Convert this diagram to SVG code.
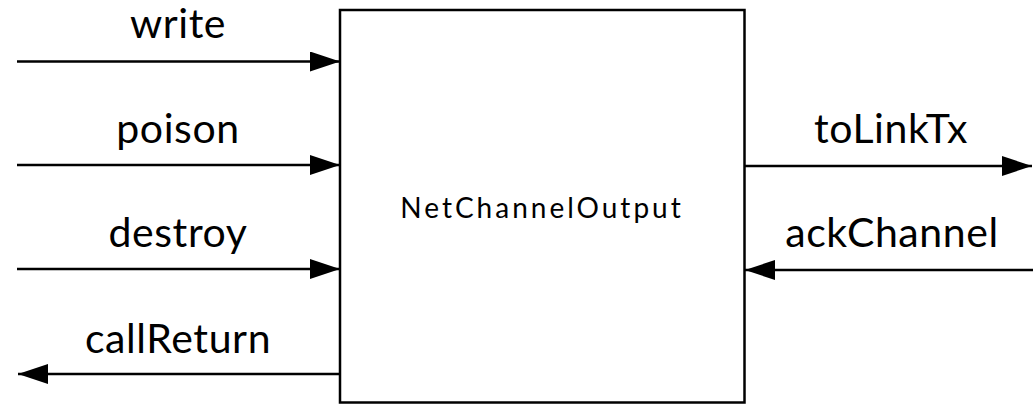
<svg xmlns="http://www.w3.org/2000/svg" width="1033" height="404" viewBox="0 0 1033 404">
<style>
.lbl{font-family:Lato,"Open Sans","Liberation Sans",sans-serif;font-size:41px;letter-spacing:0.6px;fill:#000;text-anchor:middle}
.ln{stroke:#000;stroke-width:2.5;fill:none}
</style>
<defs>
<marker id="ahb" viewBox="0 0 30 20" refX="30" refY="10" markerWidth="30" markerHeight="20" markerUnits="userSpaceOnUse" orient="auto">
<path d="M0,0 L30,10 L0,20 z" fill="#000"/>
</marker>
</defs>
<rect width="1033" height="404" fill="#fff"/>
<g id="NetChannelOutput">
<rect x="340" y="10" width="404.5" height="392.5" fill="#fff" stroke="#000" stroke-width="2.5"/>
<text x="542" y="218" style="font-family:Lato,'Open Sans','Liberation Sans',sans-serif;font-size:28px;letter-spacing:3px;text-anchor:middle">NetChannelOutput</text>
</g>
<g id="connectors">
<line class="ln" x1="17" y1="61.5" x2="340" y2="61.5" marker-end="url(#ahb)"/>
<line class="ln" x1="17" y1="165" x2="340" y2="165" marker-end="url(#ahb)"/>
<line class="ln" x1="17" y1="269" x2="340" y2="269" marker-end="url(#ahb)"/>
<line class="ln" x1="340" y1="374" x2="18" y2="374" marker-end="url(#ahb)"/>
<line class="ln" x1="744" y1="166" x2="1032" y2="166" marker-end="url(#ahb)"/>
<line class="ln" x1="1033" y1="270" x2="745" y2="270" marker-end="url(#ahb)"/>
</g>
<g id="labels">
<text class="lbl" x="178" y="38">write</text>
<text class="lbl" x="178" y="143">poison</text>
<text class="lbl" x="178" y="247">destroy</text>
<text class="lbl" x="178" y="353">callReturn</text>
<text class="lbl" x="891" y="143">toLinkTx</text>
<text class="lbl" x="892" y="247">ackChannel</text>
</g>
</svg>
